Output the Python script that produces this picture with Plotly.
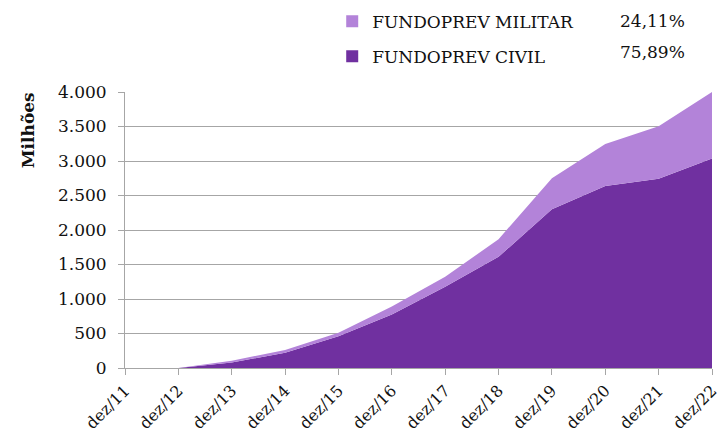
import plotly.graph_objects as go

categories = ["dez/11", "dez/12", "dez/13", "dez/14", "dez/15", "dez/16",
              "dez/17", "dez/18", "dez/19", "dez/20", "dez/21", "dez/22"]
civil = [0, 0, 80, 222, 460, 777, 1177, 1611, 2301, 2638, 2744, 3036]
militar = [0, 0, 24, 40, 50, 114, 144, 256, 449, 610, 758, 964]
series_names = ["FUNDOPREV CIVIL", "FUNDOPREV MILITAR"]
shares = ["75,89%", "24,11%"]
y_ticks = [0, 500, 1000, 1500, 2000, 2500, 3000, 3500, 4000]

DARK = "#7030A0"
LIGHT = "#B383D9"
FONT = "DejaVu Serif"

fig = go.Figure()
fig.add_trace(go.Scatter(x=categories, y=civil, name=series_names[0], stackgroup="one",
                         mode="none", fillcolor=DARK, showlegend=False, hoverinfo="skip"))
fig.add_trace(go.Scatter(x=categories, y=militar, name=series_names[1], stackgroup="one",
                         mode="none", fillcolor=LIGHT, showlegend=False, hoverinfo="skip"))
# legend entries (square markers)
fig.add_trace(go.Scatter(x=[None], y=[None], mode="markers", name=series_names[1],
                         marker=dict(symbol="square", size=12, color=LIGHT),
                         legendgroup="a", showlegend=True))
fig.add_trace(go.Scatter(x=[None], y=[None], mode="markers", name=series_names[0],
                         marker=dict(symbol="square", size=12, color=DARK),
                         legendgroup="b", showlegend=True))

fig.add_annotation(x=0.957, y=1.257, xref="paper", yref="paper", text=shares[1],
                   showarrow=False, xanchor="right", yanchor="middle",
                   font=dict(family=FONT, size=17, color="#111"))
fig.add_annotation(x=0.957, y=1.145, xref="paper", yref="paper", text=shares[0],
                   showarrow=False, xanchor="right", yanchor="middle",
                   font=dict(family=FONT, size=17, color="#111"))
fig.add_annotation(x=-0.166, y=0.86, xref="paper", yref="paper", text="<b>Milhões</b>",
                   showarrow=False, textangle=-90, xanchor="center", yanchor="middle",
                   font=dict(family=FONT, size=17, color="#111"))

fig.update_layout(
    width=721, height=439,
    margin=dict(l=125, r=9, t=92, b=71, autoexpand=False),
    paper_bgcolor="white", plot_bgcolor="white",
    separators=",.",
    font=dict(family=FONT, size=17, color="#111"),
    legend=dict(x=0.353, y=1.32, xanchor="left", yanchor="top", traceorder="grouped",
                tracegroupgap=10, font=dict(family=FONT, size=17, color="#111"),
                bgcolor="rgba(0,0,0,0)", itemclick=False),
    xaxis=dict(type="category", range=[0, 11], showgrid=False, showline=True,
               linecolor="#A6A6A6", linewidth=1, ticks="outside", ticklen=6,
               tickcolor="#A6A6A6", tickangle=-45, fixedrange=True, automargin=False,
               tickfont=dict(family=FONT, size=16, color="#111")),
    yaxis=dict(range=[0, 4000], tickvals=y_ticks, tickformat=",d", showgrid=True,
               gridcolor="#A6A6A6", gridwidth=1, showline=True, linecolor="#A6A6A6",
               ticks="outside", ticklen=6, tickcolor="#A6A6A6", zeroline=False,
               ticklabelstandoff=8, automargin=False,
               tickfont=dict(family=FONT, size=17, color="#111"), fixedrange=True),
)

fig.write_html("out.html", config={"displayModeBar": False},
               post_script="document.body.style.margin='0';document.body.style.padding='0';")
